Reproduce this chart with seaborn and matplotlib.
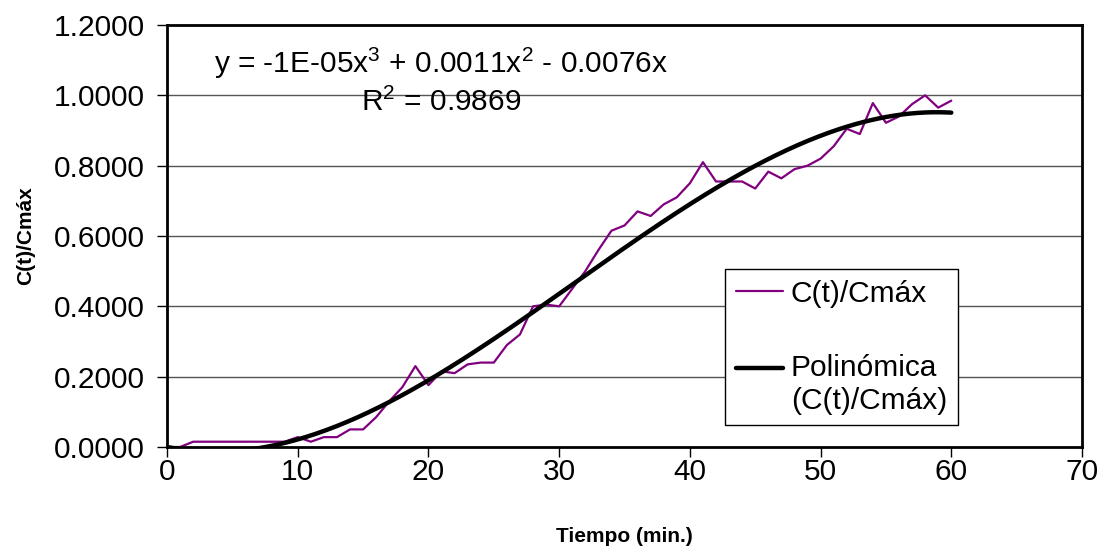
import numpy as np
import pandas as pd
import seaborn as sns
import matplotlib.pyplot as plt

# Concentration ratio, one point per minute
tiempo = list(range(0, 61))
c_ratio = [0.000, 0.000, 0.015, 0.015, 0.015, 0.015, 0.015, 0.015, 0.015, 0.015,
           0.028, 0.015, 0.028, 0.028, 0.050, 0.050, 0.085, 0.130, 0.170, 0.230,
           0.176, 0.215, 0.210, 0.235, 0.240, 0.240, 0.290, 0.320, 0.400, 0.405,
           0.400, 0.450, 0.500, 0.560, 0.615, 0.630, 0.670, 0.657, 0.690, 0.710,
           0.750, 0.810, 0.755, 0.755, 0.755, 0.735, 0.783, 0.764, 0.790, 0.800,
           0.820, 0.855, 0.905, 0.890, 0.978, 0.922, 0.940, 0.975, 1.000, 0.965,
           0.985]

x_ticks = [0, 10, 20, 30, 40, 50, 60, 70]
y_ticks = [0.0, 0.2, 0.4, 0.6, 0.8, 1.0, 1.2]

eq_text = "y = -1E-05x$^3$ + 0.0011x$^2$ - 0.0076x"
r2_text = "R$^2$ = 0.9869"

df = pd.DataFrame({"t": tiempo, "c": c_ratio})

# cubic trendline through the origin (like Excel's polynomial trendline)
t = df["t"].to_numpy(dtype=float)
A = np.column_stack([t**3, t**2, t])
coef, *_ = np.linalg.lstsq(A, df["c"].to_numpy(), rcond=None)
t_fit = np.linspace(0, 60, 301)
fit = pd.DataFrame({"t": t_fit, "c": coef[0]*t_fit**3 + coef[1]*t_fit**2 + coef[2]*t_fit})

sns.set_style("white")
plt.rcParams["font.family"] = ["Liberation Sans", "DejaVu Sans"]
plt.rcParams["mathtext.fontset"] = "custom"
plt.rcParams["mathtext.rm"] = "Liberation Sans"
plt.rcParams["text.color"] = "black"
plt.rcParams["axes.labelcolor"] = "black"
plt.rcParams["xtick.color"] = "black"
plt.rcParams["ytick.color"] = "black"

fig = plt.figure(figsize=(11.07, 5.5), dpi=100)
ax = fig.add_axes([0.1509, 0.1873, 0.8265, 0.7672])

sns.lineplot(data=df, x="t", y="c", ax=ax, color="#800080", linewidth=1.6,
             label="C(t)/Cmáx")
sns.lineplot(data=fit, x="t", y="c", ax=ax, color="black", linewidth=3.2,
             label="Polinómica\n(C(t)/Cmáx)")

ax.set_xlim(0, 70)
ax.set_ylim(0, 1.2)
ax.set_xticks(x_ticks)
ax.set_yticks(y_ticks)
ax.set_yticklabels([f"{v:.4f}" for v in y_ticks])
ax.tick_params(axis="both", labelsize=21.5, direction="out", length=7, width=1,
               color="black", labelcolor="black", left=True, bottom=True)
ax.tick_params(axis="x", pad=1)
ax.tick_params(axis="y", pad=9)

for y in y_ticks[1:-1]:
    ax.axhline(y, color="#555555", linewidth=1, zorder=0)

for s in ax.spines.values():
    s.set_color("black")
    s.set_linewidth(2)

ax.set_xlabel("Tiempo (min.)", fontsize=15, fontweight="bold")
ax.set_ylabel("C(t)/Cmáx", fontsize=15, fontweight="bold")
ax.xaxis.set_label_coords(0.5, -0.213)
ax.yaxis.set_label_coords(-0.155, 0.5)
ax.xaxis.label.set_va("center")
ax.yaxis.label.set_va("center")

ax.text(0.2995, 0.91, eq_text, transform=ax.transAxes, ha="center", va="center", fontsize=21.5)
ax.text(0.2995, 0.8175, r2_text, transform=ax.transAxes, ha="center", va="center", fontsize=21.5)

leg = ax.legend(loc="lower left", bbox_to_anchor=(0.61, 0.052), fontsize=21.5,
                frameon=True, fancybox=False, edgecolor="black", framealpha=1,
                handlelength=1.6, handletextpad=0.25, labelspacing=1.55,
                borderpad=0.35, borderaxespad=0)
leg.get_frame().set_linewidth(1)
# Excel puts the trendline key next to the first line of its label
poly_handle = leg.legend_handles[1]
poly_handle.set_ydata(np.asarray(poly_handle.get_ydata()) + 12)

plt.savefig("out.png", dpi=100)
